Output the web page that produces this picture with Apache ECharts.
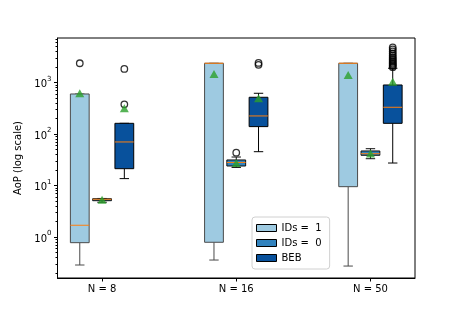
<!DOCTYPE html>
<html><head><meta charset="utf-8">
<script src="https://cdn.jsdelivr.net/npm/echarts@6/dist/echarts.min.js"></script>
<style>html,body{margin:0;padding:0;background:#fff}#c{width:461px;height:317px}</style>
</head><body><div id="c"></div>
<script>
const categories = ['N = 8', 'N = 16', 'N = 50'];
const seriesNames = ['IDs =  1', 'IDs =  0', 'BEB'];
const seriesColors = ['#9ecae1', '#3182bd', '#08519c'];
const yTickValues = [1, 10, 100, 1000];
const yMinorTickValues = [0.2,0.3,0.4,0.5,0.6,0.7,0.8,0.9,2,3,4,5,6,7,8,9,20,30,40,50,60,70,80,90,200,300,400,500,600,700,800,900,2000,3000,4000,5000,6000,7000];
const yRange = [0.16, 7300];
const groupPositions = [1, 2, 3];
// [whisker low, Q1, median, Q3, whisker high]
const ids1Box = [[0.286, 0.776, 1.69, 598, 598], [0.357, 0.79, 2360, 2360, 2360], [0.273, 9.48, 2360, 2360, 2360]];
const ids1Mean = [620, 1463, 1400];
const ids1Outliers = [[2360], [], []];
const ids0Box = [[4.72, 5.07, 5.4, 5.54, 5.6], [22.4, 23.9, 28, 31.3, 35.7], [33.1, 38.6, 41.4, 46.8, 51.8]];
const ids0Mean = [5.3, 27.3, 42];
const ids0Outliers = [[], [43.4], []];
const bebBox = [[13.6, 21.2, 70, 161, 161], [45.3, 139, 224, 516, 617], [27.3, 161, 330, 894, 1888]];
const bebMean = [315, 494, 1037];
const bebOutliers = [[377, 1830], [2200, 2400], [1980, 2080, 2180, 2300, 2420, 2560, 2720, 2900, 3100, 3350, 3650, 4000, 4400, 4800]];

const boxSets = [ids1Box, ids0Box, bebBox];
const meanSets = [ids1Mean, ids0Mean, bebMean];
const outlierSets = [ids1Outliers, ids0Outliers, bebOutliers];
const offsets = [-0.166, 0, 0.166];
const edgeColors = ['#4a4a4a', '#111', '#000'];
const BOX_W = 0.14;
const L = Math.log10;

function renderBox(offset, fill, edge) {
  return function (params, api) {
    const x = api.value(0) + offset;
    const lo = api.coord([x, api.value(1)]);
    const q1 = api.coord([x, api.value(2)]);
    const med = api.coord([x, api.value(3)]);
    const q3 = api.coord([x, api.value(4)]);
    const hi = api.coord([x, api.value(5)]);
    const w = api.size([BOX_W, 0])[0];
    const cx = lo[0];
    const ls = {stroke: edge, lineWidth: 1};
    return {type: 'group', children: [
      {type: 'line', shape: {x1: cx, y1: q1[1], x2: cx, y2: lo[1]}, style: ls},
      {type: 'line', shape: {x1: cx, y1: q3[1], x2: cx, y2: hi[1]}, style: ls},
      {type: 'line', shape: {x1: cx - w / 4, y1: lo[1], x2: cx + w / 4, y2: lo[1]}, style: ls},
      {type: 'line', shape: {x1: cx - w / 4, y1: hi[1], x2: cx + w / 4, y2: hi[1]}, style: ls},
      {type: 'rect', shape: {x: cx - w / 2, y: q3[1], width: w, height: Math.max(q1[1] - q3[1], 0.5)}, style: {fill: fill, stroke: edge, lineWidth: 1}},
      {type: 'line', shape: {x1: cx - w / 2, y1: med[1], x2: cx + w / 2, y2: med[1]}, style: {stroke: '#ff7f0e', lineWidth: 1}}
    ]};
  };
}

const series = [];
seriesNames.forEach((name, i) => {
  series.push({
    name: name, type: 'custom', z: 2 + i,
    itemStyle: {color: seriesColors[i], borderColor: '#000', borderWidth: 1},
    renderItem: renderBox(offsets[i], seriesColors[i], edgeColors[i]),
    encode: {x: 0, y: [1, 2, 3, 4, 5]},
    data: boxSets[i].map((b, k) => [groupPositions[k], L(b[0]), L(b[1]), L(b[2]), L(b[3]), L(b[4])])
  });
});
seriesNames.forEach((name, i) => {
  const pts = [];
  outlierSets[i].forEach((arr, k) => arr.forEach(v => pts.push([groupPositions[k] + offsets[i], L(v)])));
  series.push({
    name: 'out' + i, type: 'scatter', z: 10, symbol: 'circle', symbolSize: 6.5,
    itemStyle: {color: 'rgba(0,0,0,0)', borderColor: '#000', borderWidth: 1.3},
    data: pts, silent: true
  });
});
seriesNames.forEach((name, i) => {
  series.push({
    name: 'mean' + i, type: 'scatter', z: 11, symbol: 'triangle', symbolSize: [9, 8],
    itemStyle: {color: '#2ca02c'},
    data: meanSets[i].map((v, k) => [groupPositions[k] + offsets[i], L(v)]), silent: true
  });
});

const font = 'DejaVu Sans';
const option = {
  animation: false,
  backgroundColor: '#fff',
  grid: {left: 57.5, right: 46, top: 38, bottom: 39, show: true, borderColor: '#000', borderWidth: 1},
  legend: {
    orient: 'vertical', left: 252, top: 217,
    data: seriesNames.map((n, i) => ({name: n, icon: 'rect', itemStyle: {color: seriesColors[i], borderColor: '#000', borderWidth: 1}})),
    itemWidth: 20, itemHeight: 7, itemGap: 3,
    padding: [5, 8, 5, 4],
    backgroundColor: 'rgba(255,255,255,0.8)', borderColor: '#d0d0d0', borderWidth: 1, borderRadius: 3,
    textStyle: {fontFamily: font, fontSize: 10, color: '#000', lineHeight: 12}
  },
  xAxis: {
    type: 'value', min: 0.668, max: 3.332,
    axisLine: {show: true, onZero: false, lineStyle: {color: '#000', width: 1}},
    axisTick: {show: true, customValues: groupPositions, length: 3.5, lineStyle: {color: '#000'}},
    axisLabel: {customValues: groupPositions, formatter: v => categories[Math.round(v) - 1], fontFamily: font, fontSize: 10, color: '#000', margin: 6},
    splitLine: {show: false}
  },
  yAxis: [{
    type: 'value', min: L(yRange[0]), max: L(yRange[1]),
    name: 'AoP (log scale)', nameLocation: 'middle', nameGap: 31, nameRotate: 90,
    nameTextStyle: {fontFamily: font, fontSize: 10, color: '#000'},
    axisLine: {show: true, onZero: false, lineStyle: {color: '#000', width: 1}},
    axisTick: {show: true, customValues: yTickValues.map(L), length: 3.5, lineStyle: {color: '#000'}},
    axisLabel: {
      customValues: yTickValues.map(L), margin: 6,
      formatter: v => '{b|10}{s|' + Math.round(v) + '}',
      rich: {
        b: {fontFamily: font, fontSize: 10, color: '#000', lineHeight: 14, verticalAlign: 'bottom'},
        s: {fontFamily: font, fontSize: 7, color: '#000', lineHeight: 14, verticalAlign: 'top'}
      }
    },
    splitLine: {show: false}
  }, {
    type: 'value', min: L(yRange[0]), max: L(yRange[1]), position: 'left',
    axisLine: {show: false, onZero: false},
    axisTick: {show: true, customValues: yMinorTickValues.map(L), length: 2, lineStyle: {color: '#000'}},
    axisLabel: {show: false},
    splitLine: {show: false}
  }],
  series: series
};
const chart = echarts.init(document.getElementById('c'), null, {renderer: 'canvas'});
chart.setOption(option);
</script></body></html>
